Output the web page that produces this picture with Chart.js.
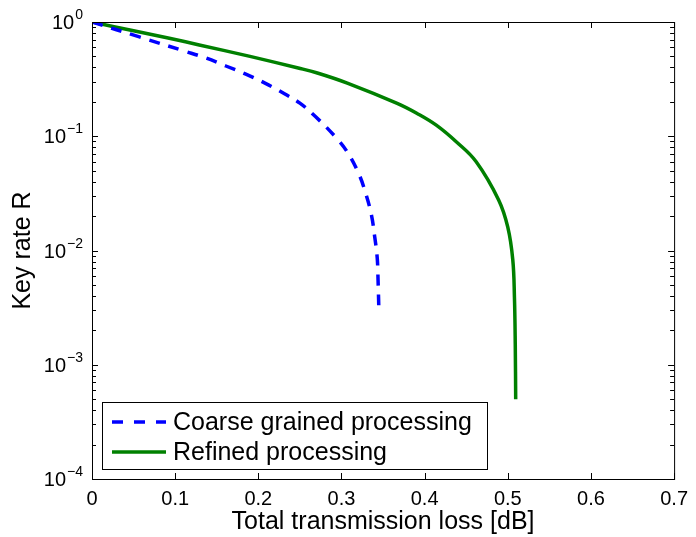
<!DOCTYPE html>
<html>
<head>
<meta charset="utf-8">
<script src="https://cdn.jsdelivr.net/npm/chart.js@4/dist/chart.umd.min.js"></script>
<style>
  html, body { margin: 0; padding: 0; background: #fff; }
  canvas { display: block; }
</style>
</head>
<body>
<canvas id="rateChart" width="696" height="537"></canvas>
<script>
// datos
const coarseX = [0, 0.057, 0.111, 0.137, 0.161, 0.185, 0.208, 0.232, 0.250, 0.269, 0.293, 0.307, 0.321, 0.329, 0.336, 0.340, 0.343, 0.344, 0.345];
const coarseY = [1, 0.74, 0.557, 0.484, 0.412, 0.35, 0.292, 0.234, 0.195, 0.148, 0.0982, 0.0728, 0.0466, 0.0319, 0.0205, 0.0131, 0.0086, 0.0055, 0.003];

const refinedX = [0, 0.05, 0.093, 0.129, 0.19, 0.248, 0.271, 0.307, 0.367, 0.3905, 0.414, 0.438, 0.462, 0.489, 0.500, 0.506, 0.508, 0.509, 0.5095];
const refinedY = [1, 0.837, 0.72, 0.63, 0.50, 0.396, 0.358, 0.292, 0.194, 0.159, 0.125, 0.0895, 0.0598, 0.0277, 0.016, 0.0083, 0.0039, 0.0015, 0.0005];

const xTicks = [0, 0.1, 0.2, 0.3, 0.4, 0.5, 0.6, 0.7];
const yDecades = [-4, -3, -2, -1, 0];
const seriesNames = ["Coarse grained processing", "Refined processing"];

const fontFamily = "'Liberation Sans', Arial, Helvetica, sans-serif";
const blue = "#0000ff";
const green = "#008000";

function toPoints(xs, ys) {
    return xs.map((v, i) => ({ x: v, y: ys[i] }));
}

// caja, marcas, etiquetas del eje y y leyenda al estilo MATLAB
const matlabAxes = {
    id: "matlabAxes",
    afterDraw(chart) {
        const { ctx, chartArea: a, scales } = chart;
        const x = scales.x, y = scales.y;
        ctx.save();
        ctx.strokeStyle = "#000";
        ctx.lineWidth = 1;
        ctx.strokeRect(a.left + 0.5, a.top + 0.5, a.right - a.left, a.bottom - a.top);

        ctx.beginPath();
        xTicks.forEach(v => {
            const px = Math.round(x.getPixelForValue(v)) + 0.5;
            ctx.moveTo(px, a.bottom); ctx.lineTo(px, a.bottom - 6);
            ctx.moveTo(px, a.top); ctx.lineTo(px, a.top + 6);
        });
        yDecades.forEach(d => {
            const base = Math.pow(10, d);
            const py = Math.round(y.getPixelForValue(base)) + 0.5;
            ctx.moveTo(a.left, py); ctx.lineTo(a.left + 6, py);
            ctx.moveTo(a.right, py); ctx.lineTo(a.right - 6, py);
            if (d < 0) {
                for (let m = 2; m <= 9; m++) {
                    const pm = Math.round(y.getPixelForValue(m * base)) + 0.5;
                    ctx.moveTo(a.left, pm); ctx.lineTo(a.left + 4, pm);
                    ctx.moveTo(a.right, pm); ctx.lineTo(a.right - 4, pm);
                }
            }
        });
        ctx.stroke();

        // etiquetas 10^n
        ctx.fillStyle = "#000";
        ctx.textBaseline = "alphabetic";
        yDecades.forEach(d => {
            const py = y.getPixelForValue(Math.pow(10, d));
            const exp = d === 0 ? "0" : "\u2212" + (-d);
            ctx.font = "14px " + fontFamily;
            const ew = ctx.measureText(exp).width;
            const ex = a.left - 9 - ew;
            ctx.textAlign = "left";
            ctx.fillText(exp, ex, py - 3);
            ctx.font = "20px " + fontFamily;
            ctx.textAlign = "right";
            ctx.fillText("10", ex - 1, py + 7);
        });

        // leyenda
        const lx = 102, ly = 402, lw = 385, lh = 67;
        ctx.fillStyle = "#fff";
        ctx.fillRect(lx, ly, lw, lh);
        ctx.strokeRect(lx + 0.5, ly + 0.5, lw, lh);
        const rows = [422, 452];
        chart.data.datasets.forEach((ds, i) => {
            ctx.beginPath();
            ctx.strokeStyle = ds.borderColor;
            ctx.lineWidth = ds.borderWidth;
            ctx.setLineDash(ds.borderDash ? [11, 11] : []);
            ctx.moveTo(112, rows[i]);
            ctx.lineTo(166, rows[i]);
            ctx.stroke();
            ctx.setLineDash([]);
            ctx.fillStyle = "#000";
            ctx.font = "25px " + fontFamily;
            ctx.textAlign = "left";
            ctx.fillText(ds.label, 173, rows[i] + 8);
        });
        ctx.restore();
    }
};

const ctx = document.getElementById("rateChart").getContext("2d");
const rateChart = new Chart(ctx, {
    type: "line",
    data: {
        datasets: [{
            label: seriesNames[0],
            data: toPoints(coarseX, coarseY),
            borderColor: blue,
            borderWidth: 3.5,
            borderDash: [11, 9],
            pointRadius: 0,
            fill: false,
            tension: 0.4,
        }, {
            label: seriesNames[1],
            data: toPoints(refinedX, refinedY),
            borderColor: green,
            borderWidth: 3.5,
            pointRadius: 0,
            fill: false,
            tension: 0.4,
        }],
    },
    options: {
        responsive: false,
        animation: false,
        devicePixelRatio: 1,
        layout: { padding: { top: 22, right: 16, left: 0, bottom: 0 } },
        plugins: {
            legend: { display: false },
            tooltip: { enabled: false },
        },
        scales: {
            x: {
                type: "linear",
                min: 0,
                max: 0.7,
                grid: { display: false, drawTicks: false },
                border: { display: false },
                afterBuildTicks: s => { s.ticks = xTicks.map(v => ({ value: v })); },
                afterFit: s => { s.height = 58; },
                ticks: {
                    autoSkip: false,
                    maxRotation: 0,
                    padding: 8,
                    color: "#000",
                    font: { size: 20, family: fontFamily },
                    callback: v => (v === 0 ? "0" : v.toFixed(1)),
                },
                title: {
                    display: true,
                    text: "Total transmission loss [dB]",
                    color: "#000",
                    font: { size: 25, family: fontFamily },
                    padding: { top: 1, bottom: 0 },
                },
            },
            y: {
                type: "logarithmic",
                min: 1e-4,
                max: 1,
                grid: { display: false, drawTicks: false },
                border: { display: false },
                ticks: { display: false },
                afterFit: s => { s.width = 92; },
                title: {
                    display: true,
                    text: "Key rate R",
                    color: "#000",
                    font: { size: 25, family: fontFamily },
                    padding: { top: 8, bottom: 0 },
                },
            },
        },
    },
    plugins: [matlabAxes],
});
</script>
</body>
</html>
